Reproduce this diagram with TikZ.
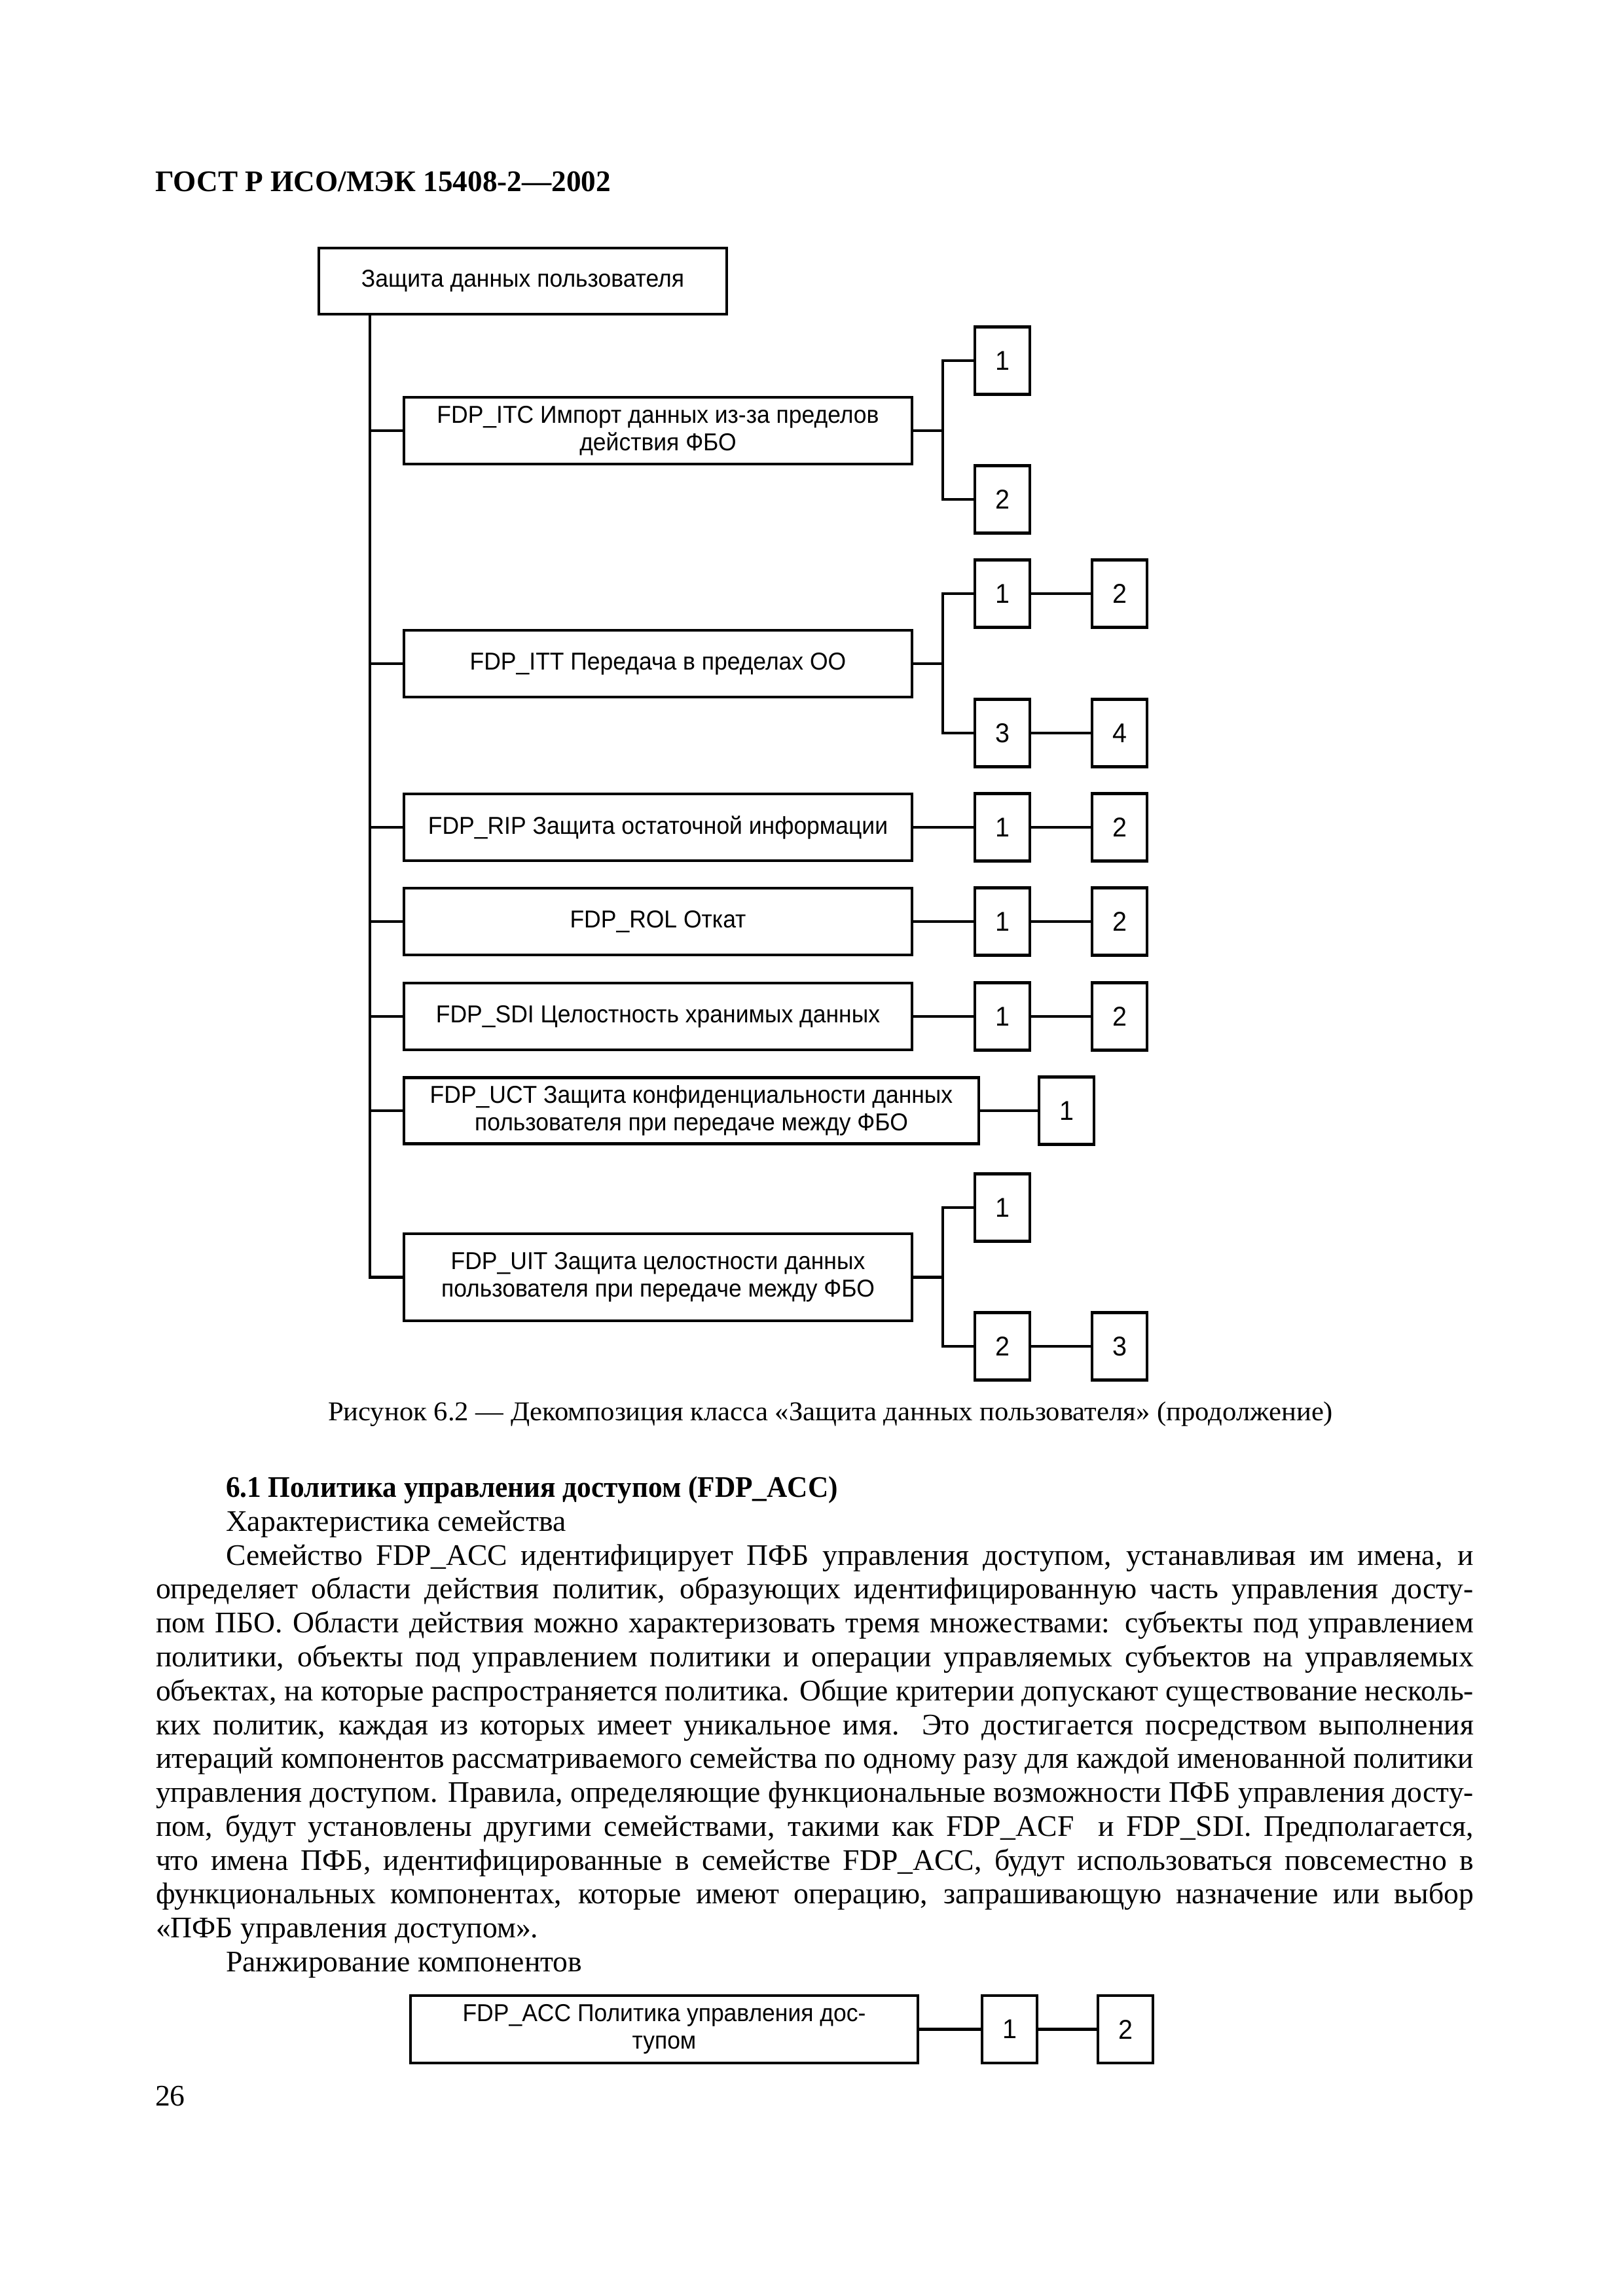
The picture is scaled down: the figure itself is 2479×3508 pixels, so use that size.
\documentclass[tikz,border=0pt]{standalone}
\usepackage{fontspec}
\setmainfont{Liberation Serif}
\newfontfamily\dsans[FakeStretch=0.95]{Liberation Sans}
\usepackage{graphicx}
\newlength\pu
\setlength\pu{0.2409pt}
\newlength\jwd
\newcommand\jline[2]{\settowidth\jwd{#2}\ifdim\jwd>#1\relax\resizebox{#1}{\height}{#2}\else\makebox[#1][s]{#2}\fi}
\newcommand\fitw[2]{\resizebox{#1}{\height}{#2}}
\begin{document}
\begin{tikzpicture}[x=0.2409pt, y=-0.2409pt,
  box/.style={draw, line width=1pt, inner sep=0pt, outer sep=0pt, align=center,
    font=\dsans\fontsize{9}{10}\selectfont},
  mainbox/.style={box, minimum width=776\pu, minimum height=102\pu},
  numbox/.style={draw, line width=1pt, inner sep=0pt, outer sep=0pt,
    minimum width=84\pu, minimum height=103\pu, font=\dsans\fontsize{10}{12}\selectfont},
  wire/.style={line width=1pt},
  body/.style={anchor=base west, inner sep=0pt, outer sep=0pt, font=\fontsize{11}{13}\selectfont},
  bodyb/.style={body, font=\bfseries\fontsize{11}{13}\selectfont}]
\fill[white] (0,0) rectangle (2479,3508);
\useasboundingbox (0,0) rectangle (2479,3508);

% header
\node[bodyb] (hdr) at (237,292) {\fitw{696\pu}{ГОСТ Р ИСО/МЭК 15408-2—2002}};

% diagram
\coordinate (tr) at (565,0);
\coordinate (br) at (1440,0);
\node[box, minimum width=623\pu, minimum height=101\pu] (top) at (798.5,429.5) {Защита данных пользователя};

\node[mainbox] (itc) at (1005,658) {FDP\_ITC Импорт данных из-за пределов\\действия ФБО};
\node[mainbox] (itt) at (1005,1014) {FDP\_ITT Передача в пределах ОО};
\node[mainbox] (rip) at (1005,1264) {FDP\_RIP Защита остаточной информации};
\node[mainbox] (rol) at (1005,1408) {FDP\_ROL Откат};
\node[mainbox] (sdi) at (1005,1553) {FDP\_SDI Целостность хранимых данных};
\node[box, minimum width=878\pu, minimum height=101\pu] (uct) at (1056,1697) {FDP\_UCT Защита конфиденциальности данных\\пользователя при передаче между ФБО};
\node[box, minimum width=776\pu, minimum height=133\pu] (uit) at (1005,1951.5) {FDP\_UIT Защита целостности данных\\пользователя при передаче между ФБО};

\node[numbox] (itc1) at (1531,551) {1};
\node[numbox] (itc2) at (1531,763) {2};
\node[numbox] (itt1) at (1531,907) {1};
\node[numbox] (itt2) at (1710,907) {2};
\node[numbox] (itt3) at (1531,1120) {3};
\node[numbox] (itt4) at (1710,1120) {4};
\node[numbox] (rip1) at (1531,1264) {1};
\node[numbox] (rip2) at (1710,1264) {2};
\node[numbox] (rol1) at (1531,1408) {1};
\node[numbox] (rol2) at (1710,1408) {2};
\node[numbox] (sdi1) at (1531,1553) {1};
\node[numbox] (sdi2) at (1710,1553) {2};
\node[numbox] (uct1) at (1629,1697) {1};
\node[numbox] (uit1) at (1531,1845) {1};
\node[numbox] (uit2) at (1531,2057) {2};
\node[numbox] (uit3) at (1710,2057) {3};

\draw[wire] (top.south -| tr) |- (uit.west);
\foreach \n in {itc,itt,rip,rol,sdi,uct}
  \draw[wire] (\n.west -| tr) -- (\n.west);

\draw[wire] (itc.east) -- (br |- itc.east);
\draw[wire] (itc1.west) -| (br |- itc2.west) -- (itc2.west);
\draw[wire] (itt.east) -- (br |- itt.east);
\draw[wire] (itt1.west) -| (br |- itt3.west) -- (itt3.west);
\draw[wire] (uit.east) -- (br |- uit.east);
\draw[wire] (uit1.west) -| (br |- uit2.west) -- (uit2.west);

\draw[wire] (itt1) -- (itt2);
\draw[wire] (itt3) -- (itt4);
\draw[wire] (rip) -- (rip1) -- (rip2);
\draw[wire] (rol) -- (rol1) -- (rol2);
\draw[wire] (sdi) -- (sdi1) -- (sdi2);
\draw[wire] (uct) -- (uct1);
\draw[wire] (uit2) -- (uit3);

% caption
\node[body, font=\fontsize{10}{12}\selectfont] (cap) at (501,2170) {\fitw{1535\pu}{Рисунок 6.2 — Декомпозиция класса «Защита данных пользователя» (продолжение)}};

% text
\node[bodyb] (sec) at (345,2287) {\fitw{935\pu}{6.1 Политика управления доступом (FDP\_ACC)}};
\node[body] (l1) at (345,2339) {Характеристика семейства};
\node[body] (l2) at (345,2391) {\jline{1906\pu}{Семейство FDP\_ACC идентифицирует ПФБ управления доступом, устанавливая им имена, и}};
\node[body] (l3) at (238,2442) {\jline{2013\pu}{определяет области действия политик, образующих идентифицированную часть управления досту-}};
\node[body] (l4) at (238,2494) {\jline{2013\pu}{пом ПБО. Области действия можно характеризовать тремя множествами: субъекты под управлением}};
\node[body] (l5) at (238,2546) {\jline{2013\pu}{политики, объекты под управлением политики и операции управляемых субъектов на управляемых}};
\node[body] (l6) at (238,2598) {\jline{2013\pu}{объектах, на которые распространяется политика. Общие критерии допускают существование несколь-}};
\node[body] (l7) at (238,2650) {\jline{2013\pu}{ких политик, каждая из которых имеет уникальное имя. Это достигается посредством выполнения}};
\node[body] (l8) at (238,2701) {\jline{2013\pu}{итераций компонентов рассматриваемого семейства по одному разу для каждой именованной политики}};
\node[body] (l9) at (238,2753) {\jline{2013\pu}{управления доступом. Правила, определяющие функциональные возможности ПФБ управления досту-}};
\node[body] (l10) at (238,2805) {\jline{2013\pu}{пом, будут установлены другими семействами, такими как FDP\_ACF \ и FDP\_SDI. Предполагается,}};
\node[body] (l11) at (238,2857) {\jline{2013\pu}{что имена ПФБ, идентифицированные в семействе FDP\_ACC, будут использоваться повсеместно в}};
\node[body] (l12) at (238,2908) {\jline{2013\pu}{функциональных компонентах, которые имеют операцию, запрашивающую назначение или выбор}};
\node[body] (l13) at (238,2960) {«ПФБ управления доступом».};
\node[body] (l14) at (345,3012) {Ранжирование компонентов};

% bottom diagram
\node[box, minimum width=775\pu, minimum height=103\pu, font=\dsans\fontsize{9}{10.2}\selectfont] (acc) at (1014.5,3100.5) {FDP\_ACC Политика управления дос-\\тупом};
\node[numbox] (acc1) at (1542,3100.5) {1};
\node[numbox] (acc2) at (1719,3100.5) {2};
\draw[wire] (acc) -- (acc1) -- (acc2);

% page number
\node[body] (pg) at (237,3217) {26};
\end{tikzpicture}
\end{document}
